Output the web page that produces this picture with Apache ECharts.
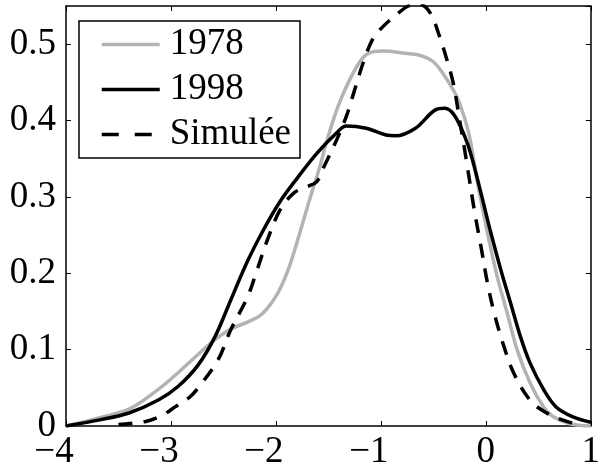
<!DOCTYPE html>
<html>
<head>
<meta charset="utf-8">
<script src="https://cdn.jsdelivr.net/npm/echarts@6/dist/echarts.min.js"></script>
<style>
  html, body { margin: 0; padding: 0; background: #fff; }
  #chart { width: 603px; height: 472px; }
</style>
</head>
<body>
<div id="chart"></div>
<script>
  // densité 1978 (gris)
  var d1978 = [
    [-4.0, 0], [-3.68, 0.011], [-3.40, 0.022], [-3.12, 0.048], [-2.93, 0.070],
    [-2.74, 0.094], [-2.58, 0.113], [-2.43, 0.127], [-2.27, 0.136], [-2.13, 0.147],
    [-1.99, 0.172], [-1.89, 0.202], [-1.80, 0.240], [-1.68, 0.296], [-1.58, 0.340],
    [-1.52, 0.371], [-1.42, 0.414], [-1.33, 0.444], [-1.21, 0.475], [-1.12, 0.488],
    [-0.98, 0.491], [-0.77, 0.488], [-0.62, 0.485], [-0.50, 0.477], [-0.41, 0.462],
    [-0.31, 0.440], [-0.25, 0.423], [-0.16, 0.382], [-0.078, 0.318], [0.016, 0.253],
    [0.11, 0.195], [0.204, 0.148], [0.298, 0.100], [0.42, 0.057], [0.55, 0.025],
    [0.643, 0.012], [0.80, 0.003], [1.0, 0]
  ];
  // densité 1998 (noir)
  var d1998 = [
    [-4.0, 0], [-3.68, 0.008], [-3.40, 0.017], [-3.12, 0.034], [-2.93, 0.052],
    [-2.74, 0.080], [-2.58, 0.117], [-2.43, 0.165], [-2.27, 0.216], [-2.11, 0.259],
    [-1.96, 0.294], [-1.80, 0.324], [-1.61, 0.357], [-1.42, 0.384], [-1.33, 0.393],
    [-1.14, 0.390], [-0.95, 0.381], [-0.86, 0.380], [-0.67, 0.390], [-0.48, 0.414],
    [-0.39, 0.416], [-0.30, 0.407], [-0.20, 0.379], [-0.14, 0.355], [-0.046, 0.305],
    [0.048, 0.253], [0.142, 0.205], [0.236, 0.161], [0.33, 0.117], [0.42, 0.083],
    [0.55, 0.048], [0.67, 0.025], [0.83, 0.012], [1.0, 0.005]
  ];
  // densité simulée (tirets)
  var dSimulee = [
    [-3.5, 0.002], [-3.24, 0.006], [-3.07, 0.015], [-2.96, 0.025], [-2.82, 0.038],
    [-2.74, 0.050], [-2.55, 0.087], [-2.43, 0.126], [-2.27, 0.169], [-2.18, 0.204],
    [-2.08, 0.244], [-1.96, 0.283], [-1.83, 0.305], [-1.71, 0.313], [-1.61, 0.320],
    [-1.54, 0.340], [-1.42, 0.375], [-1.33, 0.405], [-1.27, 0.431], [-1.17, 0.475],
    [-1.08, 0.506], [-0.98, 0.523], [-0.83, 0.541], [-0.74, 0.550], [-0.63, 0.552],
    [-0.53, 0.541], [-0.44, 0.510], [-0.38, 0.484], [-0.31, 0.449], [-0.25, 0.401],
    [-0.19, 0.352], [-0.11, 0.283], [-0.046, 0.235], [0.016, 0.187], [0.08, 0.148],
    [0.173, 0.104], [0.267, 0.069], [0.42, 0.034], [0.58, 0.017], [0.77, 0.006],
    [0.9, 0.001]
  ];
  var seriesNames = ['1978', '1998', 'Simulée'];

  var font = 'Liberation Serif';
  var chart = echarts.init(document.getElementById('chart'));

  var axisLine = { show: true, onZero: false, lineStyle: { color: '#000', width: 1.5 } };
  var axisTick = { show: true, inside: true, length: 5, lineStyle: { color: '#000', width: 1 } };

  var option = {
    backgroundColor: '#fff',
    animation: false,
    grid: { left: 66, right: 5, top: 6, bottom: 46 },
    legend: {
      data: [
        { name: seriesNames[0] },
        { name: seriesNames[1] },
        { name: seriesNames[2], lineStyle: { type: [17, 16] } }
      ],
      orient: 'vertical',
      left: 79,
      top: 21,
      padding: [5, 9, 5, 21],
      itemGap: 8,
      itemWidth: 58,
      itemHeight: 14,
      borderColor: '#000',
      borderWidth: 1.5,
      backgroundColor: '#fff',
      itemStyle: { opacity: 0 },
      lineStyle: { width: 3.5 },
      textStyle: { fontFamily: font, fontSize: 37, color: '#000', padding: [0, 0, 0, 5] }
    },
    xAxis: [{
      type: 'value', min: -4, max: 1, interval: 1, position: 'bottom',
      axisLine: axisLine, axisTick: axisTick, splitLine: { show: false },
      axisLabel: {
        margin: 8, color: '#000', fontFamily: font, fontSize: 37,
        formatter: function (v) {
          return v < 0 ? '{n|\u2212' + Math.abs(v) + '}' : '' + v;
        },
        rich: { n: { fontFamily: font, fontSize: 37, color: '#000', padding: [0, 24, 0, 0] } }
      }
    }, {
      type: 'value', min: -4, max: 1, interval: 1, position: 'top',
      axisLine: axisLine, axisTick: axisTick, splitLine: { show: false },
      axisLabel: { show: false }
    }],
    yAxis: [{
      type: 'value', min: 0, max: 0.55, interval: 0.1, position: 'left',
      axisLine: axisLine, axisTick: axisTick, splitLine: { show: false },
      axisLabel: { margin: 10, color: '#000', fontFamily: font, fontSize: 37, showMaxLabel: false }
    }, {
      type: 'value', min: 0, max: 0.55, interval: 0.1, position: 'right',
      axisLine: axisLine, axisTick: axisTick, splitLine: { show: false },
      axisLabel: { show: false }
    }],
    series: [{
      name: seriesNames[0], type: 'line', data: d1978, smooth: 0.35,
      symbol: 'none', color: '#b3b3b3',
      lineStyle: { color: '#b3b3b3', width: 3.5 }
    }, {
      name: seriesNames[1], type: 'line', data: d1998, smooth: 0.35,
      symbol: 'none', color: '#000',
      lineStyle: { color: '#000', width: 3.5 }
    }, {
      name: seriesNames[2], type: 'line', data: dSimulee, smooth: 0.35,
      symbol: 'none', color: '#000',
      lineStyle: { color: '#000', width: 3.5, type: [14, 11] }
    }]
  };
  chart.setOption(option);
</script>
</body>
</html>
